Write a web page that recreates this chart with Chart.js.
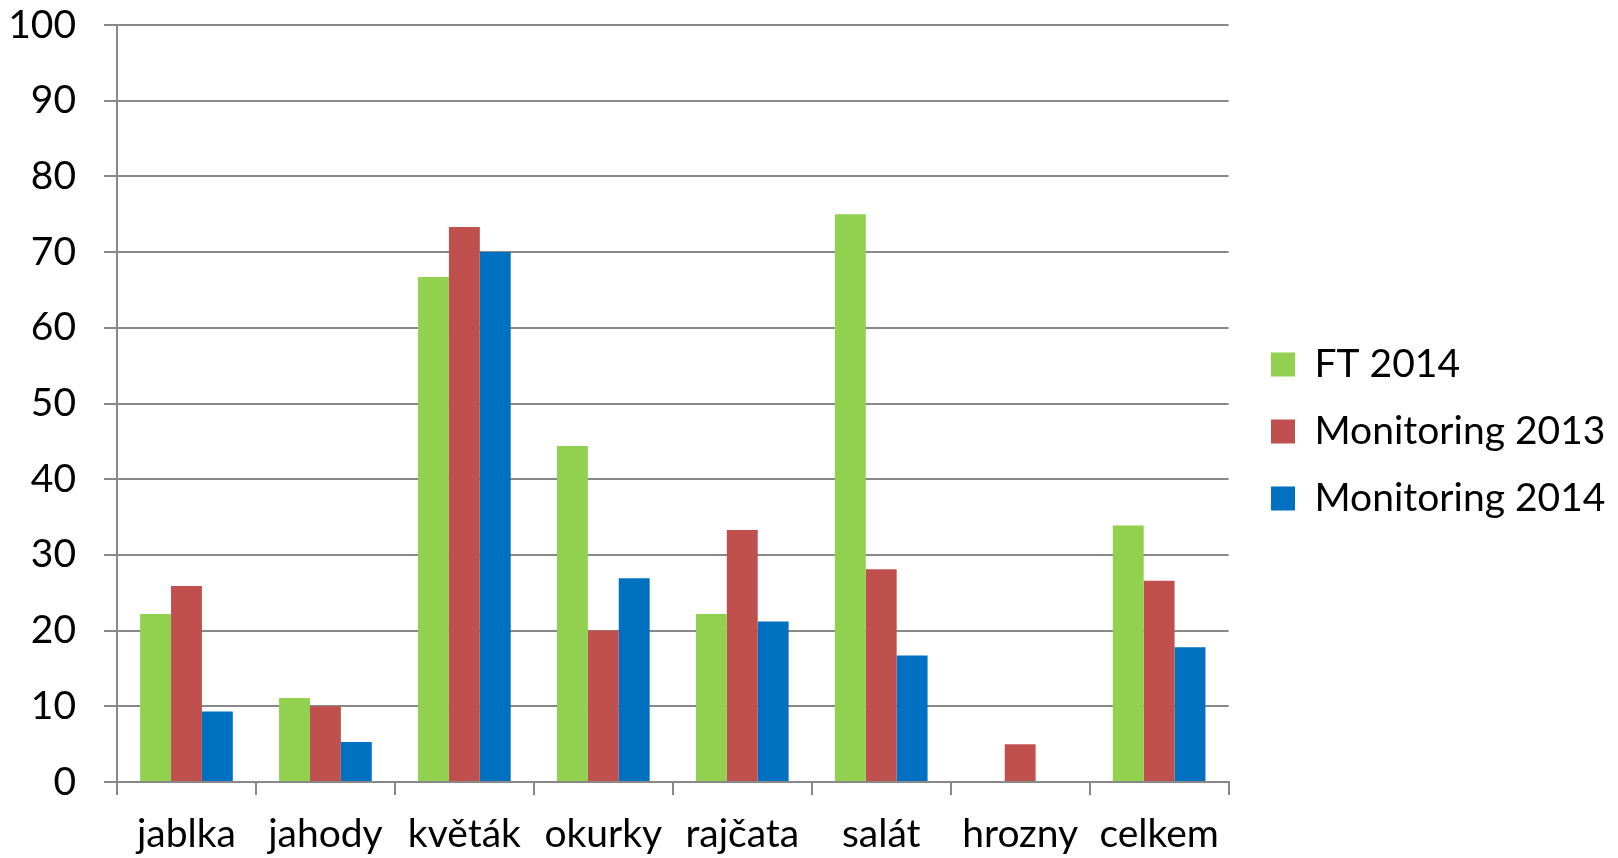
<!DOCTYPE html>
<html>
<head>
<meta charset="utf-8">
<script src="https://cdn.jsdelivr.net/npm/chart.js@4/dist/chart.umd.min.js"></script>
<style>
  html, body { margin: 0; padding: 0; background: #fff; }
  #wrap { width: 1618px; height: 858px; position: relative; }
</style>
</head>
<body>
<div id="wrap"><canvas id="chart"></canvas></div>
<script>
const categories = ['jablka', 'jahody', 'květák', 'okurky', 'rajčata', 'salát', 'hrozny', 'celkem'];
const ft2014 = [22.2, 11.1, 66.7, 44.4, 22.2, 75.0, 0, 33.9];
const monitoring2013 = [25.9, 10.0, 73.3, 20.0, 33.3, 28.1, 5.0, 26.6];
const monitoring2014 = [9.3, 5.3, 70.0, 26.9, 21.2, 16.7, 0, 17.8];
const yTicks = [0, 10, 20, 30, 40, 50, 60, 70, 80, 90, 100];

const font = {family: 'Lato', size: 39};
const gray = '#888888';

const ds = (label, data, color) => ({
  label: label,
  data: data,
  backgroundColor: color,
  borderWidth: 0,
  categoryPercentage: 0.667,
  barPercentage: 1.0,
});

// nudge the legend a bit away from the plot, like the original
const legendShift = {
  id: 'legendShift',
  afterLayout(chart) {
    const lg = chart.legend;
    const dx = 1271 - (lg.left + 28);
    lg.left += dx;
    lg.right += dx;
    lg.top -= 10;
    lg.bottom -= 10;
  },
};

new Chart(document.getElementById('chart'), {
  type: 'bar',
  data: {
    labels: categories,
    datasets: [
      ds('FT 2014', ft2014, '#92D050'),
      ds('Monitoring 2013', monitoring2013, '#C0504D'),
      ds('Monitoring 2014', monitoring2014, '#0070C0'),
    ],
  },
  plugins: [legendShift],
  options: {
    responsive: true,
    maintainAspectRatio: false,
    animation: false,
    layout: {padding: {left: 0, top: 25, right: 17, bottom: 0}},
    plugins: {
      tooltip: {enabled: false},
      legend: {
        position: 'right',
        labels: {
          font: font,
          color: '#000',
          boxWidth: 24,
          boxHeight: 24,
          padding: 28,
        },
      },
    },
    scales: {
      x: {
        afterFit: (axis) => {
          axis.height = 76;
          axis.paddingLeft = 0;
          axis.paddingRight = 0;
        },
        grid: {
          offset: true,
          drawOnChartArea: false,
          color: gray,
          lineWidth: 2,
          tickLength: 13,
        },
        border: {color: gray, width: 2},
        ticks: {font: font, color: '#000', padding: 16, maxRotation: 0},
      },
      y: {
        min: 0,
        max: 100,
        afterBuildTicks: (axis) => {
          axis.ticks = yTicks.map((v) => ({value: v}));
        },
        afterFit: (axis) => {
          axis.width = 117;
          axis.paddingTop = 0;
          axis.paddingBottom = 0;
        },
        grid: {color: gray, lineWidth: 2, tickLength: 13},
        border: {color: gray, width: 2},
        ticks: {font: font, color: '#000', padding: 28},
      },
    },
  },
});
</script>
</body>
</html>
